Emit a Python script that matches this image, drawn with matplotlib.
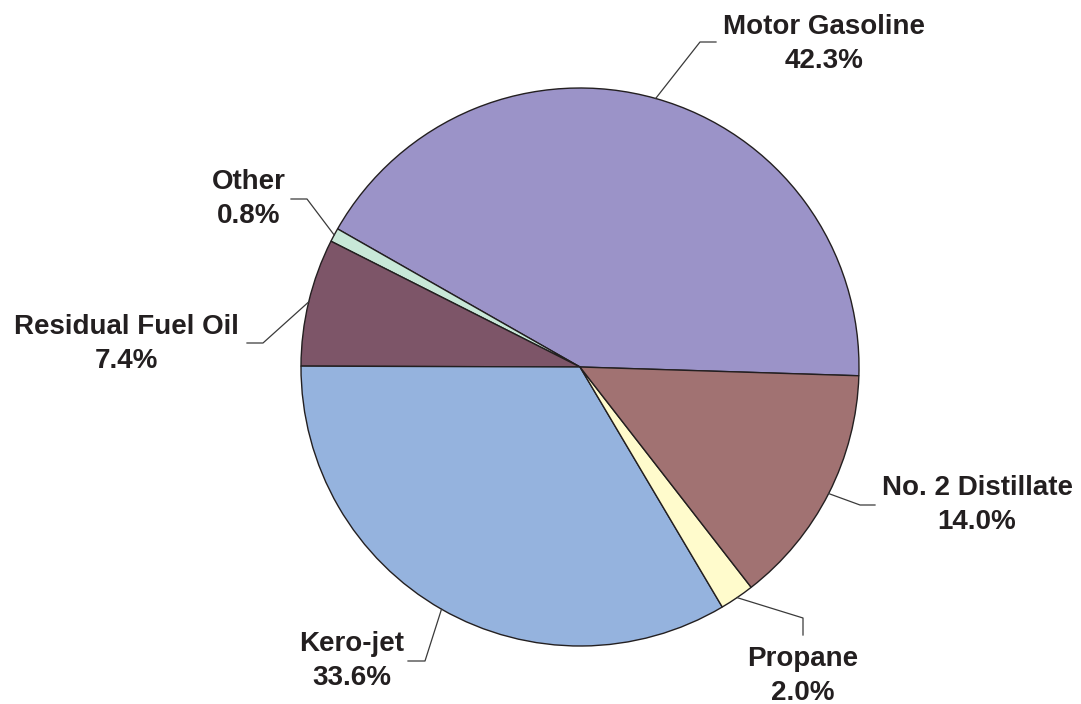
import numpy as np
import matplotlib.pyplot as plt

# Shares of petroleum product use (percent)
labels = ['Motor Gasoline', 'Other', 'Residual Fuel Oil', 'Kero-jet', 'Propane', 'No. 2 Distillate']
shares = [42.3, 0.8, 7.4, 33.6, 2.0, 14.0]
colors = ['#9B93C8', '#C8E8D8', '#7D5568', '#95B3DE', '#FFFBCC', '#A17272']

# label layout in pixel coords (text centre, knee of leader, end of leader)
text_pos = [(824, 44), (249, 199), (126, 344), (352, 661), (803, 676), (977, 505)]
knee_pos = [(700, 42), (307, 199), (263, 343), (425, 661), (803, 618), (860, 505)]
end_pos = [(716, 42), (291, 199), (247, 343), (408, 661), (803, 635), (875, 505)]

W, H = 1081, 704
fig = plt.figure(figsize=(W / 100, H / 100), dpi=100)
ax = fig.add_axes([0, 0, 1, 1])

cx, cy, r = 580, H - 367, 279
wedges, _ = ax.pie(shares, colors=colors, startangle=-1.8, counterclock=True,
                   center=(cx, cy), radius=r, frame=True,
                   wedgeprops=dict(edgecolor='#231F20', linewidth=1.0))
ax.set_xlim(0, W)
ax.set_ylim(0, H)
ax.axis('off')

txt_color = '#231F20'
for w, lab, s, tp, kp, ep in zip(wedges, labels, shares, text_pos, knee_pos, end_pos):
    ang = np.deg2rad((w.theta1 + w.theta2) / 2)
    sx = cx + r * np.cos(ang)
    sy = cy + r * np.sin(ang)
    ax.plot([sx, kp[0], ep[0]], [sy, H - kp[1], H - ep[1]], color='#3a3a3a', lw=0.9)
    ax.text(tp[0], H - tp[1], '%s\n%.1f%%' % (lab, s), ha='center', va='center',
            fontsize=20, fontweight='bold', family='Liberation Sans',
            color=txt_color, linespacing=1.38)

fig.savefig('out.png', dpi=100)
